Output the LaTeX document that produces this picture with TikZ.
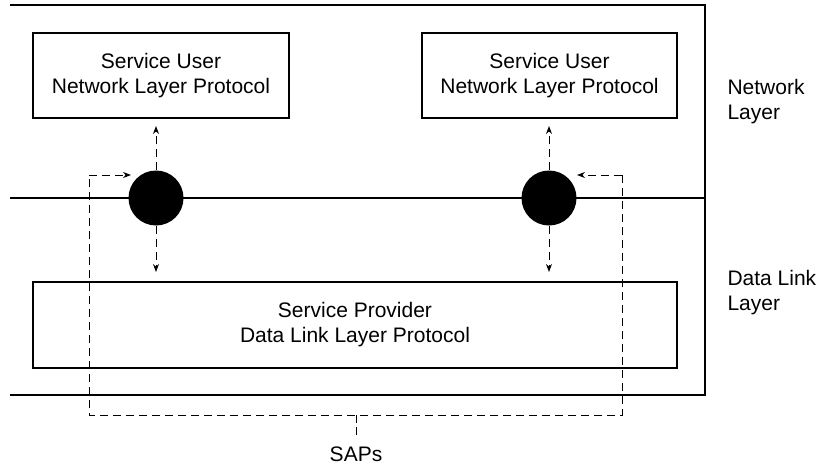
\documentclass[tikz,border=0pt]{standalone}
\usepackage{fontspec}
\setmainfont{Liberation Sans}
\usetikzlibrary{arrows.meta}
\begin{document}
\begin{tikzpicture}[x=1pt,y=-1pt,
  every node/.style={font=\fontsize{21}{25}\selectfont, align=center},
  boxn/.style={draw, line width=1.1pt, inner sep=0pt},
  sap/.style={circle, fill=black, minimum size=55pt, inner sep=0pt},
  frame/.style={line width=1.1pt},
  dsh/.style={line width=1pt, dash pattern=on 8pt off 5pt},
  darr/.style={dsh, -{Stealth[length=8pt,width=6pt]}}]
\useasboundingbox (0,0) rectangle (819,466);
% frame lines
\coordinate (tl) at (10,5);
\coordinate (tr) at (705,5);
\coordinate (ml) at (10,198);
\coordinate (mr) at (705,198);
\coordinate (bl) at (10,395);
\coordinate (br) at (705,395);
\draw[frame] (tl) -- (tr) -- (br) -- (bl);
\draw[frame] (ml) -- (mr);
% boxes
\node[boxn, minimum width=256pt, minimum height=85pt] (u1) at (161,75.5) {Service User\\Network Layer Protocol};
\node[boxn, minimum width=255pt, minimum height=85pt] (u2) at (549.5,75.5) {Service User\\Network Layer Protocol};
\node[boxn, minimum width=644pt, minimum height=86pt] (prov) at (355,325) {Service Provider\\Data Link Layer Protocol};
% SAP circles
\node[sap] (s1) at (156,198) {};
\node[sap] (s2) at (549,198) {};
% vertical arrows
\coordinate (a1t) at (156,126);
\coordinate (a1b) at (156,272);
\coordinate (a2t) at (549,126);
\coordinate (a2b) at (549,272);
\draw[darr] (s1.north) -- (a1t);
\draw[darr] (s1.south) -- (a1b);
\draw[darr] (s2.north) -- (a2t);
\draw[darr] (s2.south) -- (a2b);
% SAP dashed path
\coordinate (p1) at (89,175);
\coordinate (p2) at (89,415);
\coordinate (p3) at (622,415);
\coordinate (p4) at (622,175);
\coordinate (h1) at (131,175);
\coordinate (h2) at (577,175);
\coordinate (tk1) at (356,415);
\coordinate (tk2) at (356,436);
\draw[dsh] (p4) -- (p3) -- (p2) -- (p1);
\draw[darr] (p1) -- (h1);
\draw[darr] (p4) -- (h2);
\draw[dsh, dash pattern=on 8pt off 4pt] (tk1) -- (tk2);
\node[anchor=north] (saps) at (356,443) {SAPs};
% layer labels
\node[anchor=north west, align=left] (nl) at (724,76) {Network\\Layer};
\node[anchor=north west, align=left] (dl) at (724,267) {Data Link\\Layer};
\end{tikzpicture}
\end{document}
